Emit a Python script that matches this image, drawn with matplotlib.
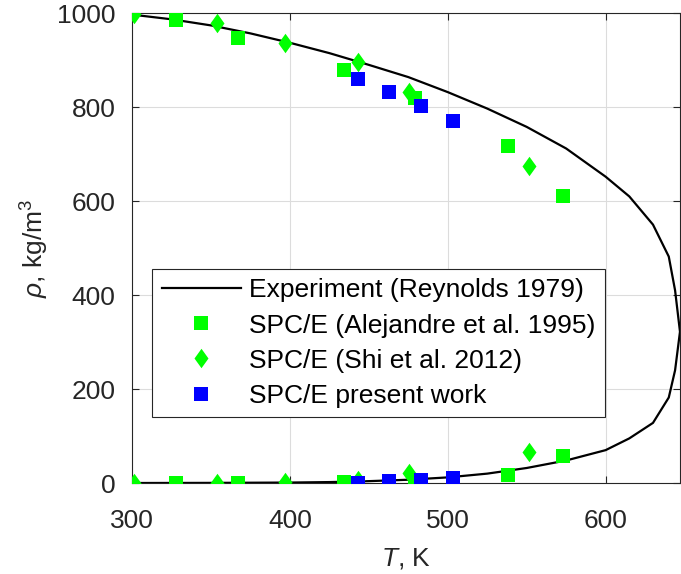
import matplotlib
matplotlib.use("Agg")
import matplotlib.pyplot as plt
from matplotlib.lines import Line2D

plt.rcParams['font.family'] = ['Liberation Sans', 'DejaVu Sans']
plt.rcParams['mathtext.fontset'] = 'custom'
plt.rcParams['mathtext.rm'] = 'Liberation Sans'
plt.rcParams['mathtext.it'] = 'Liberation Sans:italic'

# experiment coexistence curve (liquid branch -> critical point -> vapour branch)
exp_T = [300, 325, 350, 375, 400, 425, 450, 475, 500, 525, 550, 575, 600, 615, 630, 640, 644, 647.1,
         644, 640, 630, 615, 600, 575, 550, 525, 500, 475, 450, 425, 400, 350, 300]
exp_rho = [997, 987, 974, 957, 937, 915, 890, 864, 832, 797, 758, 712, 652, 610, 550, 482, 410, 322,
           240, 182, 128, 95, 70, 48, 32, 20, 12, 7, 4, 2, 1, 0.3, 0.03]

# Alejandre et al. 1995
ale_T = [328, 367, 434.5, 479, 538, 573]
ale_liq = [985, 947, 879, 819, 717, 611]
ale_vap = [0, 0.5, 2, 3, 17, 58]

# Shi et al. 2012
shi_T = [301.5, 354, 397, 443, 475.6, 551.6]
shi_liq = [998, 979, 937, 896, 833, 674]
shi_vap = [0, 0.3, 3, 6, 22, 67]

# present work
pw_T = [443, 463, 483, 503]
pw_liq = [860, 833, 803, 770]
pw_vap = [1, 4, 6, 10]

green = '#00ff00'
blue = '#0000ff'
diamond = [(0, 1), (0.72, 0), (0, -1), (-0.72, 0), (0, 1)]

fig = plt.figure(figsize=(6.81, 5.74), dpi=100)
ax = fig.add_axes([0.194, 0.1585, 0.8045, 0.8185])

ax.plot(exp_T, exp_rho, color='black', lw=1.6, zorder=2)
ax.plot(ale_T + ale_T, ale_liq + ale_vap, 's', color=green, ms=9.5, mew=0, zorder=3)
ax.plot(shi_T + shi_T, shi_liq + shi_vap, marker=diamond, ls='none', color=green, ms=14, mew=0, zorder=3)
ax.plot(pw_T + pw_T, pw_liq + pw_vap, 's', color=blue, ms=9.5, mew=0, zorder=4)

ax.set_xlim(300, 647.1)
ax.set_ylim(0, 1000)
ax.set_xticks([300, 400, 500, 600])
ax.set_yticks([0, 200, 400, 600, 800, 1000])
ax.grid(True, color='#dcdcdc', lw=0.8)
ax.set_axisbelow(True)
ax.tick_params(direction='in', top=True, right=True, length=5, width=0.8,
               labelsize=19, colors='#262626')
ax.tick_params(axis='y', pad=12)
ax.tick_params(axis='x', pad=19)
for s in ax.spines.values():
    s.set_color('#262626')
    s.set_linewidth(0.8)

ax.set_xlabel(r'$T$, K', fontsize=19, color='#262626', labelpad=9)
ax.set_ylabel(r'$\rho$, kg/m$^3$', fontsize=19, color='#262626', labelpad=4)

handles = [
    Line2D([], [], color='black', lw=1.6),
    Line2D([], [], marker='s', ls='none', color=green, ms=9.5, mew=0),
    Line2D([], [], marker=diamond, ls='none', color=green, ms=14, mew=0),
    Line2D([], [], marker='s', ls='none', color=blue, ms=9.5, mew=0),
]
labels = ['Experiment (Reynolds 1979)', 'SPC/E (Alejandre et al. 1995)',
          'SPC/E (Shi et al. 2012)', 'SPC/E present work']
leg = ax.legend(handles, labels, loc='lower left', bbox_to_anchor=(0.0365, 0.14),
                fontsize=19, handlelength=3.0, handletextpad=0.3, labelspacing=0.42,
                borderpad=0.36, borderaxespad=0, fancybox=False, framealpha=1)
leg.get_frame().set_edgecolor('#262626')
leg.get_frame().set_linewidth(0.8)

fig.savefig('out.png', dpi=100)
